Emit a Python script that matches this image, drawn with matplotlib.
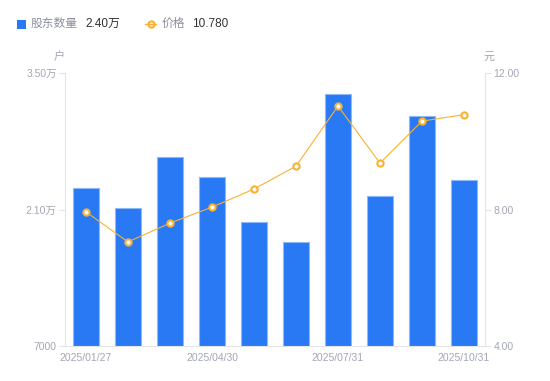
import matplotlib.pyplot as plt
from matplotlib.patches import Rectangle
from matplotlib.lines import Line2D

plt.rcParams['font.family'] = ['Liberation Sans', 'Noto Sans CJK SC', 'DejaVu Sans']

dates = ['2025/01/27', '2025/02/28', '2025/03/31', '2025/04/30', '2025/05/30',
         '2025/06/30', '2025/07/31', '2025/08/29', '2025/09/30', '2025/10/31']
holders = [23200, 21150, 26400, 24330, 19720, 17670, 32850, 22380, 30590, 24000]
prices = [7.93, 7.05, 7.60, 8.07, 8.60, 9.27, 11.03, 9.36, 10.59, 10.78]
left_ticks = [7000, 21000, 35000]
left_labels = ['7000', '2.10万', '3.50万']
right_ticks = [4, 8, 12]
right_labels = ['4.00', '8.00', '12.00']
shown = [0, 3, 6, 9]

blue = '#2979f5'
orange = '#f8b133'
grey = '#a3a6b4'
axcol = '#e3e4e8'

fig = plt.figure(figsize=(5.5, 3.81), dpi=100)
ax = fig.add_axes([65 / 550, 35 / 381, 420 / 550, 273 / 381])
x = list(range(len(dates)))
ax.bar(x, holders, width=0.6, color=blue, edgecolor='#8db8fa', linewidth=0.8, zorder=2)
ax.set_xlim(-0.5, len(dates) - 0.5)
ax.set_ylim(7000, 35000)
ax.set_yticks(left_ticks)
ax.set_yticklabels(left_labels)
ax.set_xticks([x[i] for i in shown])
ax.set_xticklabels([dates[i] for i in shown])

ax2 = ax.twinx()
ax2.plot(x, prices, color=orange, linewidth=0.8, marker='o', markersize=4.5,
         markerfacecolor='white', markeredgecolor=orange, markeredgewidth=1.5, zorder=3)
ax2.set_ylim(4, 12)
ax2.set_yticks(right_ticks)
ax2.set_yticklabels(right_labels)

for a in (ax, ax2):
    for s in a.spines.values():
        s.set_visible(False)
    a.tick_params(colors=axcol, labelcolor=grey, labelsize=7.5, length=4, width=0.8, pad=2)
ax.spines['left'].set_visible(True)
ax.spines['bottom'].set_visible(True)
ax2.spines['right'].set_visible(True)
ax.spines['left'].set_color(axcol)
ax.spines['bottom'].set_color(axcol)
ax2.spines['right'].set_color(axcol)
ax.tick_params(axis='x', length=0, pad=5)

fig.text(59 / 550, 1 - 57 / 381, '户', color=grey, fontsize=8, ha='center', va='center')
fig.text(489 / 550, 1 - 57 / 381, '元', color=grey, fontsize=8, ha='center', va='center')

# legend
ly = 1 - 24 / 381
fig.patches.append(Rectangle((17 / 550, 1 - 29 / 381), 9 / 550, 9 / 381, transform=fig.transFigure,
                             facecolor=blue, edgecolor='none'))
fig.text(31 / 550, ly, '股东数量', color='#8c8f9c', fontsize=8.5, va='center')
fig.text(85 / 550, ly, '2.40万', color='#333333', fontsize=8.5, va='center')
fig.lines.append(Line2D([145 / 550, 156 / 550], [ly, ly], transform=fig.transFigure, color=orange,
                        linewidth=1, zorder=3))
fig.lines.append(Line2D([150.5 / 550], [ly], transform=fig.transFigure, color=orange, marker='o',
                        markersize=4.5, markerfacecolor='white', markeredgewidth=1.5))
fig.text(162 / 550, ly, '价格', color='#8c8f9c', fontsize=8.5, va='center')
fig.text(192 / 550, ly, '10.780', color='#333333', fontsize=8.5, va='center')

fig.savefig('out.png', dpi=100)
